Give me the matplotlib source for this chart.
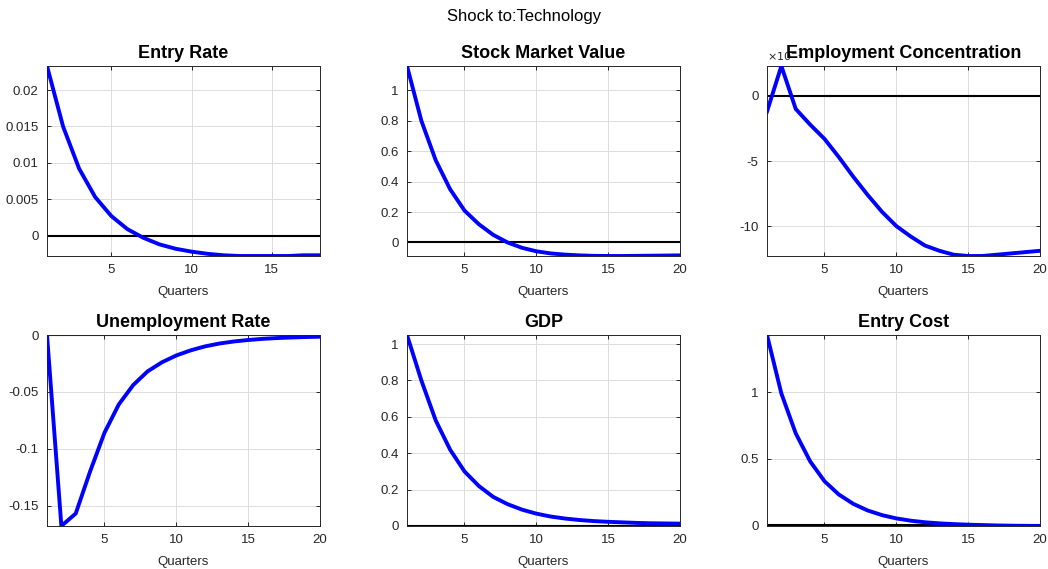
import matplotlib
matplotlib.use("Agg")
import matplotlib.pyplot as plt
from matplotlib.ticker import FuncFormatter

plt.rcParams["font.family"] = ["Liberation Sans", "DejaVu Sans"]
plt.rcParams["axes.unicode_minus"] = False

# Impulse responses to a technology shock, by quarter
entry_rate = [0.0233, 0.0150, 0.0092, 0.0053, 0.0027, 0.0009, -0.0003, -0.0012,
              -0.0018, -0.0022, -0.0025, -0.0027, -0.0028, -0.0028, -0.0028,
              -0.0028, -0.0027, -0.0027]
stock_value = [1.16, 0.80, 0.54, 0.35, 0.21, 0.12, 0.05, 0.00, -0.035, -0.058,
               -0.072, -0.080, -0.085, -0.088, -0.089, -0.089, -0.088, -0.087,
               -0.086, -0.085]
emp_conc = [-1.2e-3, 2.3e-3, -1.0e-3, -2.2e-3, -3.3e-3, -4.7e-3, -6.2e-3,
            -7.6e-3, -8.9e-3, -10.0e-3, -10.8e-3, -11.5e-3, -11.9e-3, -12.2e-3,
            -12.3e-3, -12.3e-3, -12.2e-3, -12.1e-3, -12.0e-3, -11.9e-3]
unemp_rate = [0.0, -0.168, -0.157, -0.120, -0.086, -0.061, -0.044, -0.032,
              -0.024, -0.018, -0.0135, -0.010, -0.0075, -0.0057, -0.0044,
              -0.0034, -0.0027, -0.0022, -0.0018, -0.0015]
gdp = [1.05, 0.80, 0.58, 0.42, 0.30, 0.22, 0.16, 0.12, 0.09, 0.068, 0.052,
       0.041, 0.033, 0.027, 0.023, 0.020, 0.017, 0.015, 0.014, 0.013]
entry_cost = [1.43, 0.99, 0.69, 0.48, 0.33, 0.23, 0.16, 0.11, 0.075, 0.05,
              0.033, 0.021, 0.013, 0.007, 0.003, 0.0, -0.003, -0.005, -0.006,
              -0.007]

titles = ["Entry Rate", "Stock Market Value", "Employment Concentration",
          "Unemployment Rate", "GDP", "Entry Cost"]
series = [entry_rate, stock_value, emp_conc, unemp_rate, gdp, entry_cost]
yticks = [[0, 0.005, 0.01, 0.015, 0.02],
          [0, 0.2, 0.4, 0.6, 0.8, 1],
          [-0.01, -0.005, 0],
          [-0.15, -0.1, -0.05, 0],
          [0, 0.2, 0.4, 0.6, 0.8, 1],
          [0, 0.5, 1]]
# exponent shown above the y axis (0 = none)
y_exp = [0, 0, -3, 0, 0, 0]

W, H = 1048, 569
fig = plt.figure(figsize=(W / 100, H / 100), dpi=100)
fig.suptitle("Shock to:Technology", y=1 - 16 / H, va="center", fontsize=12)

col_left = [47, 407, 767]
row_box = [(66, 256), (335, 526)]
ax_w = 273
dark = "#262626"

for i, (name, vals) in enumerate(zip(titles, series)):
    top, bot = row_box[i // 3]
    left = col_left[i % 3]
    ax = fig.add_axes([left / W, 1 - bot / H, ax_w / W, (bot - top) / H])
    q = list(range(1, len(vals) + 1))
    ax.axhline(0, color="black", lw=1.5, zorder=2)
    ax.plot(q, vals, color="blue", lw=2.8, zorder=3)
    ax.set_xlim(1, len(vals))
    ax.set_ylim(min(min(vals), 0), max(max(vals), 0))
    ax.set_xticks([t for t in (5, 10, 15, 20) if t <= len(vals)])
    ax.set_yticks(yticks[i])
    scale = 10.0 ** (-y_exp[i])
    ax.yaxis.set_major_formatter(
        FuncFormatter(lambda v, p, s=scale: "%g" % round(v * s, 6)))
    if y_exp[i]:
        ax.text(0, 1.01, r"$\times10^{%d}$" % y_exp[i], transform=ax.transAxes,
                fontsize=8, color=dark, ha="left", va="bottom", zorder=1)
    ax.set_title(name, fontsize=13, fontweight="bold", pad=6)
    ax.set_xlabel("Quarters", fontsize=9.5, color=dark, labelpad=7)
    ax.grid(True, color="#dcdcdc", lw=0.7)
    ax.set_axisbelow(True)
    ax.tick_params(direction="in", top=True, right=True, length=3,
                   labelsize=9.5, colors=dark, width=0.7, pad=6)
    for s in ax.spines.values():
        s.set_color(dark)
        s.set_linewidth(0.7)

fig.savefig("out.png", dpi=100)
